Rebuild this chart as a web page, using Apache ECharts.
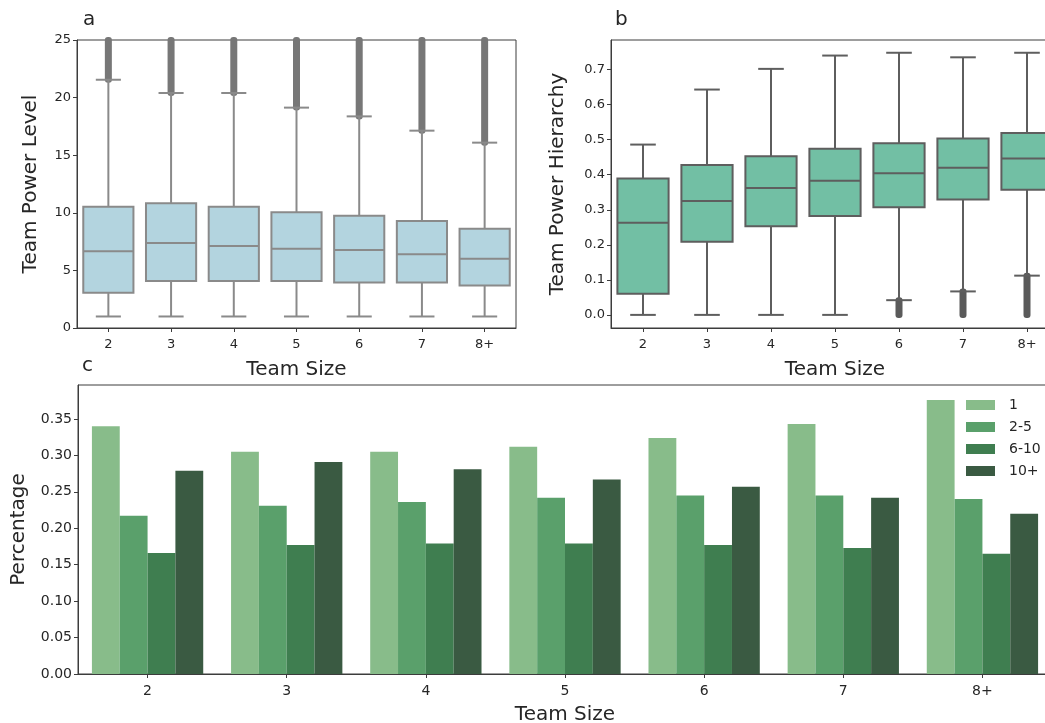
<!DOCTYPE html>
<html>
<head>
<meta charset="utf-8">
<script src="https://cdn.jsdelivr.net/npm/echarts@6/dist/echarts.min.js"></script>
<style>
html,body{margin:0;padding:0;background:#fff;overflow:hidden;width:1045px;height:723px;}
#chart{width:1065px;height:723px;}
</style>
</head>
<body>
<div id="chart"></div>
<script>
// ---- data ----
const teamSizes = ['2', '3', '4', '5', '6', '7', '8+'];

// panel a: Team Power Level box plots
const levelMin = [1, 1, 1, 1, 1, 1, 1];
const levelQ1 = [3.07, 4.08, 4.08, 4.08, 3.94, 3.94, 3.70];
const levelMed = [6.66, 7.38, 7.12, 6.89, 6.77, 6.40, 6.02];
const levelQ3 = [10.53, 10.82, 10.53, 10.04, 9.75, 9.29, 8.62];
const levelMax = [21.55, 20.4, 20.4, 19.13, 18.37, 17.13, 16.09];
const levelOutLo = [21.55, 20.4, 20.4, 19.13, 18.37, 17.13, 16.09];
const levelOutHi = [25, 25, 25, 25, 25, 25, 25];
const levelTicks = [0, 5, 10, 15, 20, 25];

// panel b: Team Power Hierarchy box plots
const hierMin = [0, 0, 0, 0, 0.042, 0.067, 0.112];
const hierQ1 = [0.060, 0.209, 0.253, 0.282, 0.307, 0.329, 0.357];
const hierMed = [0.263, 0.325, 0.362, 0.383, 0.404, 0.420, 0.446];
const hierQ3 = [0.389, 0.428, 0.453, 0.474, 0.490, 0.503, 0.519];
const hierMax = [0.486, 0.643, 0.702, 0.740, 0.748, 0.735, 0.748];
const hierOutLo = [null, null, null, null, 0, 0, 0];
const hierOutHi = [null, null, null, null, 0.042, 0.067, 0.112];
const hierTicks = [0, 0.1, 0.2, 0.3, 0.4, 0.5, 0.6, 0.7];

// panel c: share by group
const groupNames = ['1', '2-5', '6-10', '10+'];
const share1 = [0.340, 0.305, 0.305, 0.312, 0.324, 0.343, 0.376];
const share2to5 = [0.217, 0.231, 0.236, 0.242, 0.245, 0.245, 0.240];
const share6to10 = [0.166, 0.177, 0.179, 0.179, 0.177, 0.173, 0.165];
const share10p = [0.279, 0.291, 0.281, 0.267, 0.257, 0.242, 0.220];
const pctTicks = [0, 0.05, 0.10, 0.15, 0.20, 0.25, 0.30, 0.35];

// ---- helpers ----
const FONT = 'DejaVu Sans';
const TXT = '#262626';
const SPINE = '#3c3c3c';

function boxRows(mn, q1, md, q3, mx) {
  return teamSizes.map((_, i) => [i, mn[i], q1[i], md[i], q3[i], mx[i]]);
}
function outRows(lo, hi) {
  const r = [];
  teamSizes.forEach((_, i) => { if (lo[i] != null) r.push([i, lo[i], hi[i]]); });
  return r;
}
function makeBoxRender(fill, line) {
  return function (params, api) {
    const i = api.value(0);
    const x = api.coord([i, 0])[0];
    const band = api.size([1, 0])[0];
    const hw = band * 0.4, cw = band * 0.2;
    const yMin = api.coord([i, api.value(1)])[1];
    const yQ1 = api.coord([i, api.value(2)])[1];
    const yMd = api.coord([i, api.value(3)])[1];
    const yQ3 = api.coord([i, api.value(4)])[1];
    const yMax = api.coord([i, api.value(5)])[1];
    const ls = { stroke: line, lineWidth: 2, fill: null };
    return {
      type: 'group',
      children: [
        { type: 'line', shape: { x1: x, y1: yQ3, x2: x, y2: yMax }, style: ls },
        { type: 'line', shape: { x1: x, y1: yQ1, x2: x, y2: yMin }, style: ls },
        { type: 'line', shape: { x1: x - cw, y1: yMax, x2: x + cw, y2: yMax }, style: ls },
        { type: 'line', shape: { x1: x - cw, y1: yMin, x2: x + cw, y2: yMin }, style: ls },
        { type: 'rect', shape: { x: x - hw, y: yQ3, width: hw * 2, height: yQ1 - yQ3 },
          style: { fill: fill, stroke: line, lineWidth: 2 } },
        { type: 'line', shape: { x1: x - hw, y1: yMd, x2: x + hw, y2: yMd }, style: ls }
      ]
    };
  };
}
function makeOutRender(color) {
  return function (params, api) {
    const i = api.value(0);
    const x = api.coord([i, 0])[0];
    const yLo = api.coord([i, api.value(1)])[1];
    const yHi = api.coord([i, api.value(2)])[1];
    const w = 7, r = 3;
    return {
      type: 'rect',
      shape: { x: x - w / 2, y: yHi - r, width: w, height: (yLo - yHi) + 2 * r, r: 3 },
      style: { fill: color }
    };
  };
}

const axisLabelStyle = { color: TXT, fontFamily: FONT, fontSize: 13 };
const axisLabelStyleC = { color: TXT, fontFamily: FONT, fontSize: 14 };
const nameStyle = { color: TXT, fontFamily: FONT, fontSize: 20 };

function catAxis(gridIndex, lbl, gap) {
  return {
    type: 'category', gridIndex: gridIndex, data: teamSizes, boundaryGap: true,
    axisLine: { show: true, onZero: false, lineStyle: { color: SPINE, width: 1 } },
    axisTick: { show: true, alignWithLabel: true, length: 4, lineStyle: { color: SPINE } },
    axisLabel: Object.assign({ margin: 10 }, lbl),
    name: 'Team Size', nameLocation: 'middle', nameGap: gap, nameTextStyle: nameStyle,
    splitLine: { show: false }
  };
}

const chart = echarts.init(document.getElementById('chart'), null, { renderer: 'canvas' });

const titleStyle = { fontFamily: FONT, fontSize: 20, fontWeight: 'normal', color: TXT };
const gridBase = { show: true, borderColor: SPINE, borderWidth: 1, backgroundColor: 'transparent', containLabel: false, outerBoundsMode: 'none' };
const option = {
  backgroundColor: '#ffffff',
  animation: false,
  title: [
    { text: 'a', left: 78, top: 5, textStyle: titleStyle },
    { text: 'b', left: 610, top: 5, textStyle: titleStyle },
    { text: 'c', left: 77, top: 351, textStyle: titleStyle }
  ],
  grid: [
    Object.assign({ left: 77, top: 40, width: 439, height: 288 }, gridBase),
    Object.assign({ left: 611, top: 40, width: 448, height: 288 }, gridBase),
    Object.assign({ left: 78, top: 385, width: 974, height: 289 }, gridBase)
  ],
  legend: {
    data: groupNames, orient: 'vertical', left: 966, top: 398,
    itemWidth: 29, itemHeight: 10, itemGap: 8, icon: 'rect',
    textStyle: { fontFamily: FONT, fontSize: 14, color: TXT, padding: [0, 0, 0, 9] }, padding: 0
  },
  xAxis: [catAxis(0, axisLabelStyle, 32), catAxis(1, axisLabelStyle, 32), catAxis(2, axisLabelStyleC, 31)],
  yAxis: [
    {
      type: 'value', gridIndex: 0, min: 0, max: 25, interval: 5,
      axisLine: { show: true, onZero: false, lineStyle: { color: SPINE } },
      axisTick: { show: true, length: 4, lineStyle: { color: SPINE } },
      axisLabel: Object.assign({ margin: 6 }, axisLabelStyle),
      splitLine: { show: false },
      name: 'Team Power Level', nameLocation: 'middle', nameRotate: 90, nameGap: 36, nameTextStyle: nameStyle
    },
    {
      type: 'value', gridIndex: 1, min: -0.0374, max: 0.7844,
      axisLine: { show: true, onZero: false, lineStyle: { color: SPINE } },
      axisTick: { show: true, length: 4, lineStyle: { color: SPINE }, customValues: hierTicks },
      axisLabel: Object.assign({ margin: 6, customValues: hierTicks, formatter: v => Number(v).toFixed(1) }, axisLabelStyle),
      splitLine: { show: false },
      name: 'Team Power Hierarchy', nameLocation: 'middle', nameRotate: 90, nameGap: 43, nameTextStyle: nameStyle
    },
    {
      type: 'value', gridIndex: 2, min: 0, max: 0.3966,
      axisLine: { show: true, onZero: false, lineStyle: { color: SPINE } },
      axisTick: { show: true, length: 4, lineStyle: { color: SPINE }, customValues: pctTicks },
      axisLabel: Object.assign({ margin: 6, customValues: pctTicks, formatter: v => Number(v).toFixed(2) }, axisLabelStyleC),
      splitLine: { show: false },
      name: 'Percentage', nameLocation: 'middle', nameRotate: 90, nameGap: 49, nameTextStyle: nameStyle
    }
  ],
  series: [
    {
      type: 'custom', name: 'levelOutliers', xAxisIndex: 0, yAxisIndex: 0,
      renderItem: makeOutRender('#777777'),
      encode: { x: 0, y: [1, 2] },
      data: outRows(levelOutLo, levelOutHi), z: 2
    },
    {
      type: 'custom', name: 'levelBox', xAxisIndex: 0, yAxisIndex: 0,
      renderItem: makeBoxRender('#b3d4df', '#8a8a8a'),
      encode: { x: 0, y: [1, 2, 3, 4, 5] },
      data: boxRows(levelMin, levelQ1, levelMed, levelQ3, levelMax), z: 3
    },
    {
      type: 'custom', name: 'hierOutliers', xAxisIndex: 1, yAxisIndex: 1,
      renderItem: makeOutRender('#5a5a5a'),
      encode: { x: 0, y: [1, 2] },
      data: outRows(hierOutLo, hierOutHi), z: 2
    },
    {
      type: 'custom', name: 'hierBox', xAxisIndex: 1, yAxisIndex: 1,
      renderItem: makeBoxRender('#72bfa4', '#5e5e5e'),
      encode: { x: 0, y: [1, 2, 3, 4, 5] },
      data: boxRows(hierMin, hierQ1, hierMed, hierQ3, hierMax), z: 3
    },
    { type: 'bar', name: groupNames[0], xAxisIndex: 2, yAxisIndex: 2, data: share1,
      itemStyle: { color: '#88bc8a' }, barGap: '0%', barCategoryGap: '20%' },
    { type: 'bar', name: groupNames[1], xAxisIndex: 2, yAxisIndex: 2, data: share2to5,
      itemStyle: { color: '#5aa06b' }, barGap: '0%', barCategoryGap: '20%' },
    { type: 'bar', name: groupNames[2], xAxisIndex: 2, yAxisIndex: 2, data: share6to10,
      itemStyle: { color: '#3f7e50' }, barGap: '0%', barCategoryGap: '20%' },
    { type: 'bar', name: groupNames[3], xAxisIndex: 2, yAxisIndex: 2, data: share10p,
      itemStyle: { color: '#3a5a42' }, barGap: '0%', barCategoryGap: '20%' }
  ]
};
chart.setOption(option);
</script>
</body>
</html>
